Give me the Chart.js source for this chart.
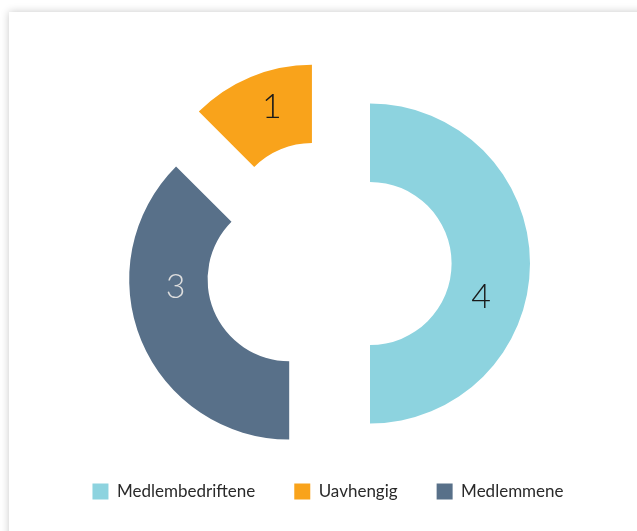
<!DOCTYPE html>
<html>
<head>
<meta charset="utf-8">
<script src="https://cdn.jsdelivr.net/npm/chart.js@4/dist/chart.umd.min.js"></script>
<style>
  html, body { margin: 0; padding: 0; background: #ffffff; overflow: hidden; width: 637px; height: 531px; }
  #card { position: absolute; left: 9px; top: 12px; width: 700px; height: 600px; background: #fff;
          box-shadow: 0 0 8px rgba(0,0,0,0.22); }
  #c { position: absolute; left: 0; top: 0; }
</style>
</head>
<body>
<div id="card"></div>
<canvas id="c" width="637" height="531"></canvas>
<script>
// Data (drawing order, clockwise from top)
const categories = ['Medlembedriftene', 'Medlemmene', 'Uavhengig'];
const values = [4, 3, 1];
const colors = ['#8dd3df', '#587089', '#f9a31b'];
const labelColors = ['#1a1a1a', '#dedede', '#1a1a1a'];
const legendOrder = [0, 2, 1];
// style: how far each slice is pulled out, and label placement
const explode = 42;
const labelAngleShift = [17, 18.5, 3.6];
const labelRingFrac = [0.44, 0.41, 0.54];

function midAngle(arc) {
  const p = arc.getProps(['startAngle', 'endAngle'], true);
  return (p.startAngle + p.endAngle) / 2;
}

const explodeSlices = {
  id: 'explodeSlices',
  beforeDatasetsDraw(chart) {
    const meta = chart.getDatasetMeta(0);
    meta.data.forEach((arc) => {
      if (arc._exploded) return;
      const orig = arc.draw;
      arc.draw = function (ctx, area) {
        const m = midAngle(this);
        ctx.save();
        ctx.translate(Math.cos(m) * explode, Math.sin(m) * explode);
        orig.call(this, ctx, area);
        ctx.restore();
      };
      arc._exploded = true;
    });
  },
  afterDatasetsDraw(chart) {
    const ctx = chart.ctx;
    const meta = chart.getDatasetMeta(0);
    meta.data.forEach((arc, i) => {
      const p = arc.getProps(['x', 'y', 'startAngle', 'endAngle', 'innerRadius', 'outerRadius'], true);
      const mid = (p.startAngle + p.endAngle) / 2;
      const cx = p.x + Math.cos(mid) * explode;
      const cy = p.y + Math.sin(mid) * explode;
      const a = mid + labelAngleShift[i] * Math.PI / 180;
      const r = p.innerRadius + (p.outerRadius - p.innerRadius) * labelRingFrac[i];
      ctx.save();
      ctx.font = '300 34px Lato, "Open Sans", sans-serif';
      ctx.fillStyle = labelColors[i];
      ctx.textAlign = 'center';
      ctx.textBaseline = 'middle';
      ctx.fillText(String(values[i]), cx + Math.cos(a) * r, cy + Math.sin(a) * r);
      ctx.restore();
    });
  }
};

new Chart(document.getElementById('c'), {
  type: 'doughnut',
  data: {
    labels: categories,
    datasets: [{
      data: values,
      backgroundColor: colors,
      borderWidth: 0,
      offset: 0,
      hoverOffset: 0
    }]
  },
  options: {
    responsive: false,
    animation: false,
    devicePixelRatio: 1,
    radius: 160,
    cutout: '51%',
    layout: { padding: { top: 83, bottom: 21, left: 19, right: 0 } },
    plugins: {
      tooltip: { enabled: false },
      legend: {
        position: 'bottom',
        labels: {
          boxWidth: 16,
          boxHeight: 16,
          padding: 39,
          color: '#2a2a2a',
          font: { family: 'Lato, "Open Sans", sans-serif', size: 17 },
          sort: (a, b) => legendOrder.indexOf(a.index) - legendOrder.indexOf(b.index)
        }
      }
    }
  },
  plugins: [explodeSlices]
});
</script>
</body>
</html>
